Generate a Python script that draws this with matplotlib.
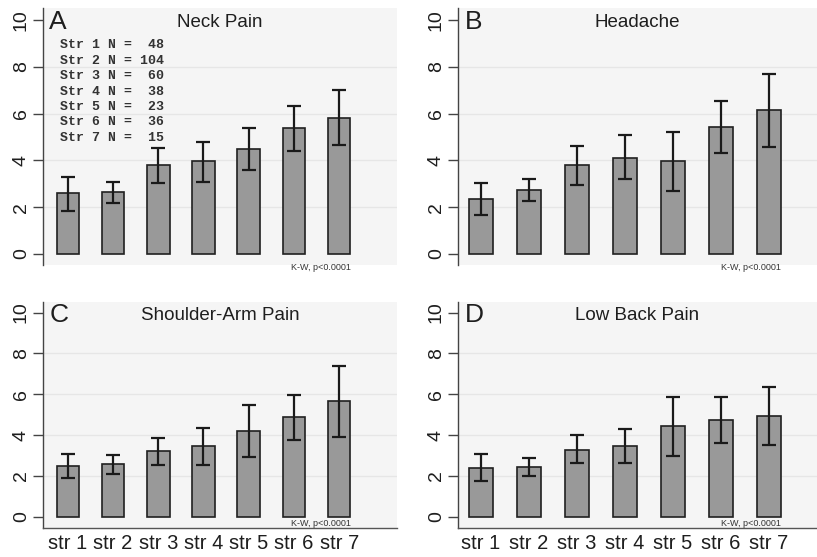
import matplotlib
matplotlib.use("Agg")
import matplotlib.pyplot as plt
import numpy as np

strata = ["str 1", "str 2", "str 3", "str 4", "str 5", "str 6", "str 7"]
n_per_str = [48, 104, 60, 38, 23, 36, 15]

panel_letters = ["A", "B", "C", "D"]
panel_titles = ["Neck Pain", "Headache", "Shoulder-Arm Pain", "Low Back Pain"]

# mean pain score and lower / upper end of the error bar
neck_mean = [2.59, 2.65, 3.80, 3.97, 4.49, 5.37, 5.81]
neck_lo = [1.85, 2.19, 3.03, 3.09, 3.58, 4.40, 4.66]
neck_hi = [3.28, 3.08, 4.54, 4.80, 5.37, 6.32, 7.01]

head_mean = [2.34, 2.75, 3.80, 4.12, 3.97, 5.43, 6.14]
head_lo = [1.67, 2.26, 2.95, 3.19, 2.71, 4.30, 4.59]
head_hi = [3.02, 3.21, 4.63, 5.10, 5.20, 6.55, 7.71]

arm_mean = [2.50, 2.57, 3.20, 3.46, 4.22, 4.87, 5.65]
arm_lo = [1.90, 2.11, 2.53, 2.53, 2.92, 3.76, 3.92]
arm_hi = [3.09, 3.02, 3.87, 4.36, 5.49, 5.95, 7.39]

back_mean = [2.39, 2.42, 3.28, 3.48, 4.44, 4.75, 4.93]
back_lo = [1.73, 1.98, 2.61, 2.63, 2.96, 3.63, 3.50]
back_hi = [3.06, 2.86, 3.99, 4.31, 5.88, 5.86, 6.36]

means = [neck_mean, head_mean, arm_mean, back_mean]
lows = [neck_lo, head_lo, arm_lo, back_lo]
highs = [neck_hi, head_hi, arm_hi, back_hi]

W, H = 817, 557
fig = plt.figure(figsize=(W / 100, H / 100), dpi=100)
plt.rcParams['font.family'] = ['Liberation Sans', 'DejaVu Sans']

# axes boxes in pixels: left, top, right, bottom
boxes = [(43, 8, 397, 265), (458, 8, 817, 265),
         (43, 302, 397, 528), (458, 302, 817, 528)]
xlims = [(0.45, 8.28), (0.53, 8.0), (0.45, 8.28), (0.53, 8.0)]

x = np.arange(1, 8)
text_col = "#1e1e1e"

for i in range(4):
    l, t, r, b = boxes[i]
    ax = fig.add_axes([l / W, 1 - b / H, (r - l) / W, (b - t) / H])
    ax.set_facecolor("#f5f5f5")
    bottom_row = i >= 2

    m = np.array(means[i])
    err = [m - np.array(lows[i]), np.array(highs[i]) - m]
    ax.bar(x, m, width=0.5, color="#999999", edgecolor="#202020", linewidth=1.2, zorder=3)
    ax.errorbar(x, m, yerr=err, fmt="none", ecolor="#1a1a1a", elinewidth=1.6,
                capsize=4.8, capthick=1.6, zorder=4)

    ax.set_xlim(*xlims[i])
    if bottom_row:
        ax.set_ylim(-0.55, 10.52)
    else:
        ax.set_ylim(-0.47, 10.51)

    ax.set_yticks([0, 2, 4, 6, 8, 10])
    ax.set_yticklabels(["0", "2", "4", "6", "8", "10"], fontsize=14, color=text_col)
    for lab in ax.get_yticklabels():
        lab.set_rotation(90)
        lab.set_va("center")
        lab.set_ha("right")
    ax.tick_params(axis="y", direction="out", length=7, width=1, color="#444444", pad=2.5)

    for yv in [2, 4, 6, 8]:
        ax.axhline(yv, color="#e6e6e6", linewidth=1.0, zorder=1)

    for s in ["top", "right"]:
        ax.spines[s].set_visible(False)
    ax.spines["left"].set_color("#444444")
    ax.spines["left"].set_linewidth(1.0)

    if bottom_row:
        ax.spines["bottom"].set_color("#555555")
        ax.spines["bottom"].set_linewidth(1.0)
        ax.set_xticks(x)
        ax.set_xticklabels(strata, fontsize=14.5, color=text_col)
        ax.tick_params(axis="x", length=0, pad=4)
        kw_y = 0.022
        title_y = 0.942
    else:
        ax.spines["bottom"].set_visible(False)
        ax.set_xticks([])
        kw_y = -0.008
        title_y = 0.945

    ax.text(0.018, title_y, panel_letters[i], transform=ax.transAxes, fontsize=19,
            color=text_col, ha="left", va="center")
    ax.text(0.5, title_y, panel_titles[i], transform=ax.transAxes, fontsize=13.5,
            color=text_col, ha="center", va="center")
    ax.text(7.25, kw_y, "K-W, p<0.0001", transform=ax.get_xaxis_transform(),
            fontsize=6.5, color="#333333", ha="right", va="center", clip_on=False)

    if i == 0:
        lines = [f"Str {k + 1} N = {n:>3}" for k, n in enumerate(n_per_str)]
        ax.text(0.048, 0.878, "\n".join(lines), transform=ax.transAxes,
                fontsize=9.5, family="Liberation Mono", fontweight="bold",
                color="#333333", ha="left", va="top", linespacing=1.38)

fig.savefig("out.png", dpi=100)
